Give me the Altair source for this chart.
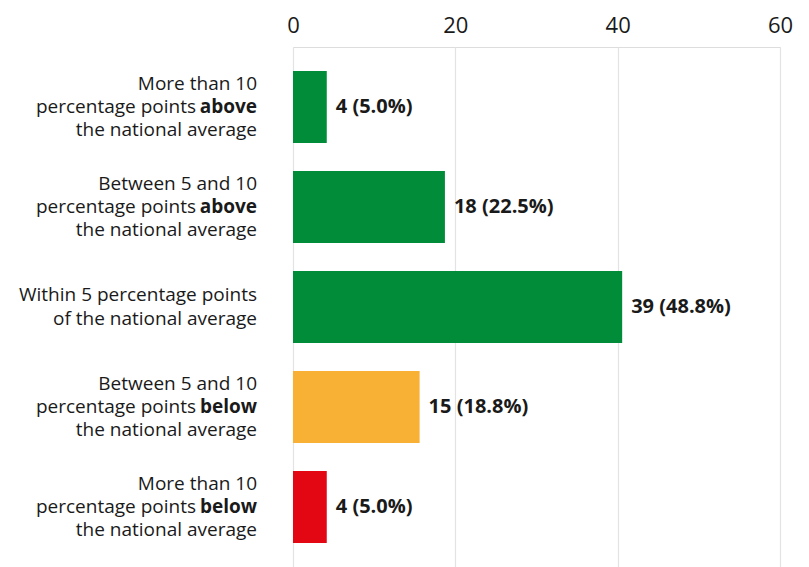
import altair as alt
import pandas as pd

categories = ["above10", "above5", "within5", "below5", "below10"]
counts = [4, 18, 39, 15, 4]
percents = [5.0, 22.5, 48.8, 18.8, 5.0]
colors = ["#008C39", "#008C39", "#008C39", "#F8B134", "#E30613"]

NBSP = "\u00a0"
# three-line labels: top line, middle (plain + bold word), bottom line
line_top = ["More than 10" + NBSP, "Between 5 and 10", "", "Between 5 and 10", "More than 10" + NBSP]
mid_plain = ["percentage points", "percentage points", "", "percentage points", "percentage points"]
mid_bold = ["above", "above", "", "below", "below"]
line_bottom = ["the national average", "the national average", "", "the national average", "the national average"]
# two-line label
line2_top = ["", "", "Within 5 percentage points", "", ""]
line2_bottom = ["", "", "of the national average", "", ""]

x_ticks = [0, 20, 40, 60]
axis_domain = [0, 60]
bar_domain = [0, 57.7]  # bars in the reference run ~4% longer than the axis

df = pd.DataFrame({
    "cat": categories,
    "count": counts,
    "pct": percents,
    "color": colors,
    "top": line_top,
    "plain": mid_plain,
    "bold": mid_bold,
    "bottom": line_bottom,
    "top2": line2_top,
    "bottom2": line2_bottom,
})
df["value_label"] = [f"{c} ({p:.1f}%)" for c, p in zip(counts, percents)]
axis_df = pd.DataFrame({"tick": x_ticks})

TEXT = "#1a1a1a"
LH = 23.3

y_enc = alt.Y(
    "cat:N",
    sort=categories,
    scale=alt.Scale(paddingInner=0.28, paddingOuter=0.24),
    axis=None,
)

base = alt.Chart(df)

axis_layer = alt.Chart(axis_df).mark_tick(opacity=0).encode(
    x=alt.X(
        "tick:Q",
        scale=alt.Scale(domain=axis_domain, nice=False),
        axis=alt.Axis(
            orient="top",
            values=x_ticks,
            title=None,
            domain=False,
            ticks=False,
            grid=True,
            gridColor="#e3e3e3",
            gridWidth=1.2,
            labelFont="Open Sans",
            labelFontSize=22,
            labelColor=TEXT,
            labelBaseline="alphabetic",
            labelPadding=15,
            labelFlush=False,
        ),
    ),
)

x_bar = alt.X("count:Q", scale=alt.Scale(domain=bar_domain, nice=False), axis=None)

bars = base.mark_bar().encode(
    x=x_bar,
    y=y_enc,
    color=alt.Color("color:N", scale=None),
)

values = base.mark_text(
    align="left", baseline="middle", dx=9,
    font="Open Sans", fontSize=20, fontWeight="bold", color=TEXT,
).encode(
    x=x_bar,
    y=y_enc,
    text="value_label:N",
)


def label_layer(field, dx, dy, weight="normal"):
    return base.transform_filter(f"datum.{field} != ''").mark_text(
        align="right", baseline="middle", dx=dx, dy=dy,
        font="Open Sans", fontSize=19, fontWeight=weight, color=TEXT,
    ).encode(
        x=alt.datum(0),
        y=y_enc,
        text=f"{field}:N",
    )


labels = [
    label_layer("top", -36, -LH),
    label_layer("plain", -97, 0),
    label_layer("bold", -36, 0, "bold"),
    label_layer("bottom", -36, LH),
    label_layer("top2", -36, -LH / 2),
    label_layer("bottom2", -36, LH / 2),
]

data_layers = alt.layer(bars, values, *labels)

chart = (
    alt.layer(axis_layer, data_layers)
    .resolve_scale(x="independent")
    .properties(
        width=487,
        height=520,
        autosize=alt.AutoSizeParams(type="none"),
        padding={"left": 285, "top": 39, "right": 14, "bottom": 0},
    )
    .configure_view(stroke=None)
    .configure(background="white")
)

chart.save("out.html", embed_options={"renderer": "svg", "actions": False})
